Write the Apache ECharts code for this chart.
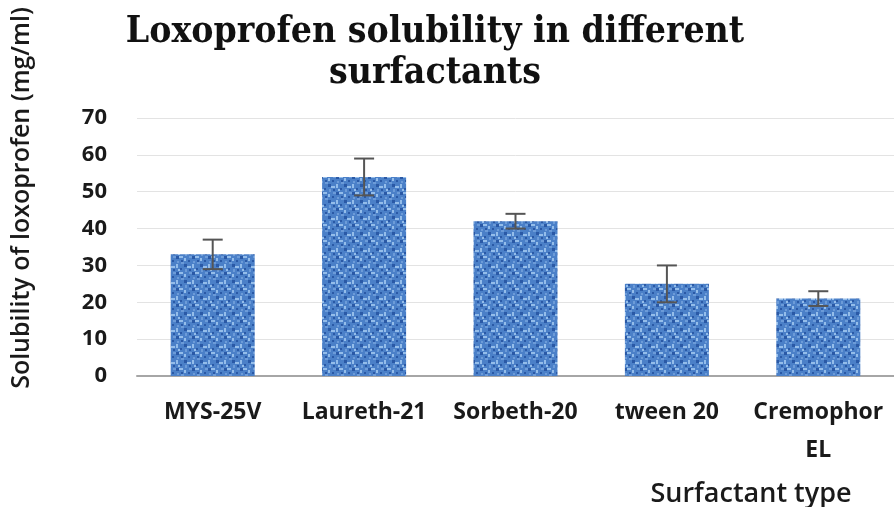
<!DOCTYPE html>
<html>
<head>
<meta charset="utf-8">
<script src="https://cdn.jsdelivr.net/npm/echarts@6/dist/echarts.min.js"></script>
<style>
  html, body { margin: 0; padding: 0; background: #fff; }
  #chart { width: 894px; height: 507px; }
</style>
</head>
<body>
<div id="chart"></div>
<script>
// chart data
var categories = ['MYS-25V', 'Laureth-21', 'Sorbeth-20', 'tween 20', 'Cremophor\nEL'];
var solubility = [33, 54, 42, 25, 21];
var errLow = [29, 49, 40, 20, 19];
var errHigh = [37, 59, 44, 30, 23];
var yTicks = [0, 10, 20, 30, 40, 50, 60, 70];

// woven blue texture for the bars
function makeTexture() {
    var c = document.createElement('canvas');
    c.width = 16;
    c.height = 16;
    var ctx = c.getContext('2d');
    ctx.fillStyle = '#4b80c8';
    ctx.fillRect(0, 0, 16, 16);
    ctx.fillStyle = '#2a59a6';
    ctx.fillRect(0, 0, 3, 3);
    ctx.fillRect(8, 8, 3, 3);
    ctx.fillRect(4, 12, 2, 2);
    ctx.fillRect(12, 4, 2, 2);
    ctx.fillRect(5, 4, 2, 2);
    ctx.fillRect(13, 13, 2, 2);
    ctx.fillStyle = '#94bdea';
    ctx.fillRect(3, 0, 4, 2);
    ctx.fillRect(0, 8, 2, 4);
    ctx.fillRect(11, 10, 4, 2);
    ctx.fillRect(8, 2, 2, 3);
    ctx.fillRect(2, 13, 2, 2);
    ctx.fillStyle = '#6c9bd8';
    ctx.fillRect(5, 6, 3, 2);
    ctx.fillRect(13, 0, 3, 2);
    ctx.fillRect(1, 5, 2, 2);
    ctx.fillRect(9, 13, 2, 3);
    return c;
}

var dom = document.getElementById('chart');
var myChart = echarts.init(dom, null, { renderer: 'canvas' });

var errData = [];
for (var i = 0; i < categories.length; i++) {
    errData.push([i, errLow[i], errHigh[i]]);
}

var option = {
    animation: false,
    backgroundColor: '#fff',
    title: {
        text: 'Loxoprofen solubility in different\nsurfactants',
        left: 430,
        top: 7,
        textAlign: 'center',
        textStyle: {
            fontFamily: 'DejaVu Serif Condensed, DejaVu Serif',
            fontWeight: 'bold',
            fontSize: 37,
            lineHeight: 41,
            color: '#111'
        }
    },
    grid: {
        left: 137,
        right: 0,
        top: 118,
        bottom: 131,
        containLabel: false
    },
    xAxis: {
        type: 'category',
        data: categories,
        axisLine: { lineStyle: { color: '#a6a6a6', width: 2 } },
        axisTick: { show: false },
        axisLabel: {
            margin: 17,
            interval: 0,
            fontFamily: 'Open Sans',
            fontWeight: 'bold',
            fontSize: 23,
            lineHeight: 38,
            color: '#1a1a1a',
            verticalAlign: 'top'
        }
    },
    yAxis: {
        type: 'value',
        min: 0,
        max: 70,
        interval: 10,
        axisLine: { show: false },
        axisTick: { show: false },
        splitLine: { lineStyle: { color: '#e3e3e3', width: 1 } },
        axisLabel: {
            margin: 30,
            fontFamily: 'Open Sans',
            fontWeight: 'bold',
            fontSize: 22,
            color: '#1a1a1a',
            formatter: function (v) { return yTicks.indexOf(v) >= 0 ? String(v) : ''; }
        }
    },
    graphic: [
        {
            type: 'text',
            x: 22,
            y: 198,
            rotation: Math.PI / 2,
            style: {
                text: 'Solubility of loxoprofen (mg/ml)',
                fontFamily: 'Open Sans',
                fontWeight: 600,
                fontSize: 25,
                fill: '#1a1a1a',
                align: 'center',
                verticalAlign: 'middle'
            }
        },
        {
            type: 'text',
            x: 751,
            y: 494,
            style: {
                text: 'Surfactant type',
                fontFamily: 'Open Sans',
                fontWeight: 600,
                fontSize: 27,
                fill: '#1a1a1a',
                align: 'center',
                verticalAlign: 'middle'
            }
        }
    ],
    series: [
        {
            type: 'bar',
            data: solubility,
            barWidth: 84,
            itemStyle: {
                color: { image: makeTexture(), repeat: 'repeat' }
            }
        },
        {
            type: 'custom',
            data: errData,
            z: 10,
            renderItem: function (params, api) {
                var x = api.coord([api.value(0), 0])[0];
                var top = api.coord([api.value(0), api.value(2)])[1];
                var bot = api.coord([api.value(0), api.value(1)])[1];
                var style = { stroke: '#555', lineWidth: 2 };
                return {
                    type: 'group',
                    children: [
                        { type: 'line', shape: { x1: x, y1: top, x2: x, y2: bot }, style: style },
                        { type: 'line', shape: { x1: x - 10, y1: top, x2: x + 10, y2: top }, style: style },
                        { type: 'line', shape: { x1: x - 10, y1: bot, x2: x + 10, y2: bot }, style: style }
                    ]
                };
            }
        }
    ]
};
myChart.setOption(option);
window.addEventListener('resize', myChart.resize);
</script>
</body>
</html>
